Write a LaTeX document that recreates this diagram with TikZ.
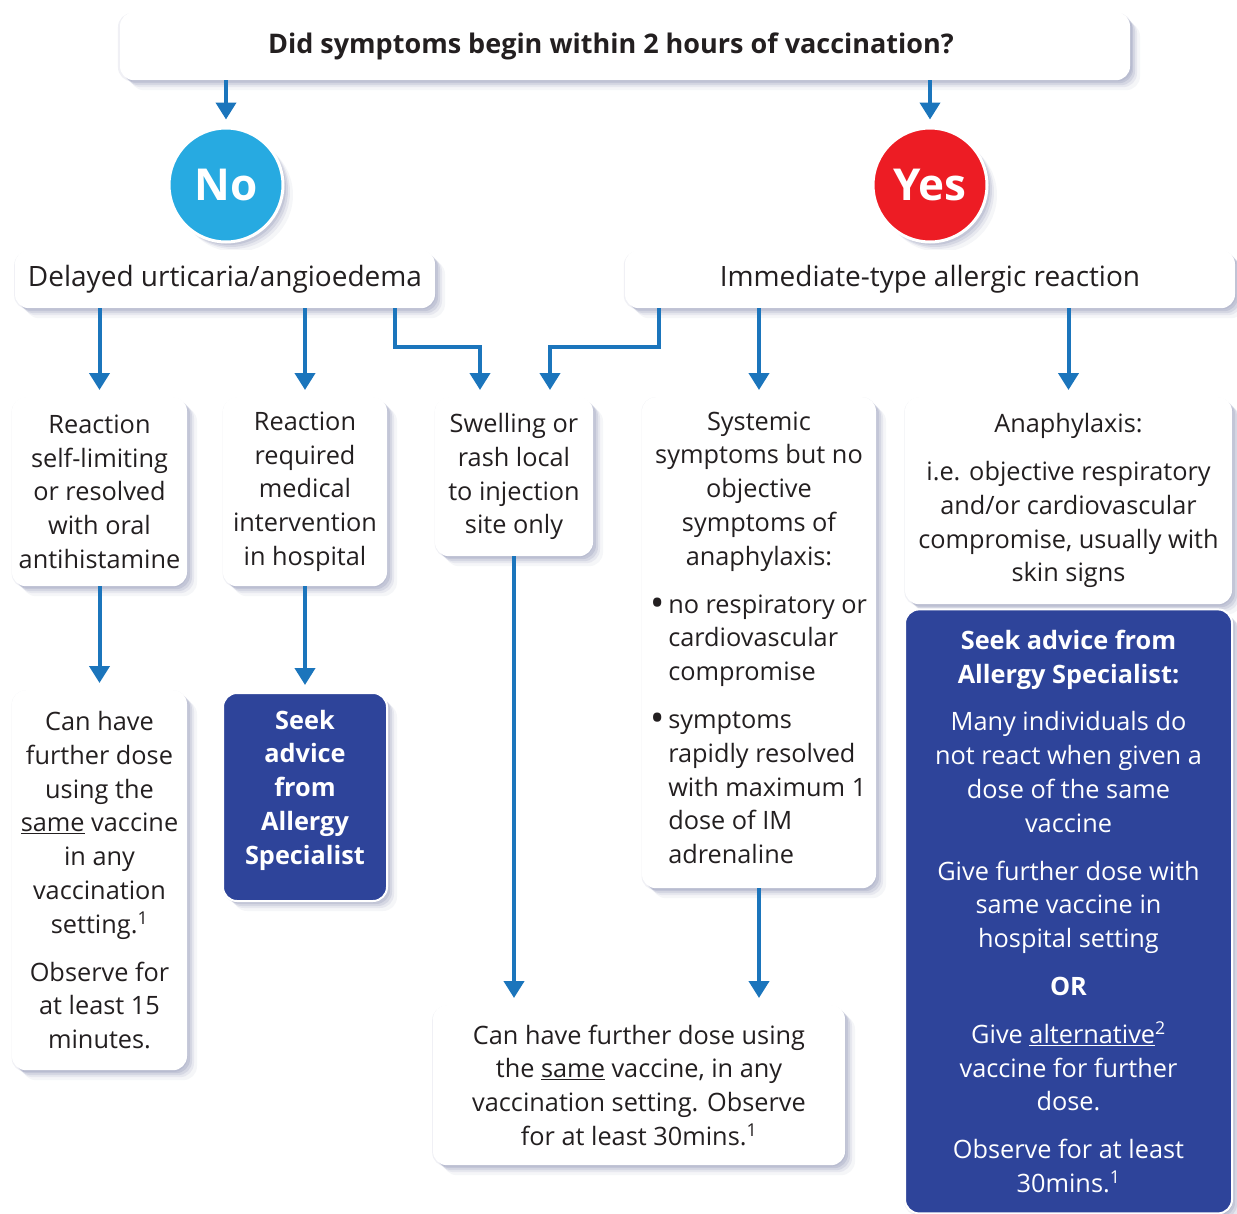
\documentclass[tikz,border=0pt]{standalone}
\usepackage{fontspec}
\setmainfont{Open Sans}
\usetikzlibrary{positioning,arrows.meta,shadows}

\definecolor{flowblue}{RGB}{27,117,188}
\definecolor{advblue}{RGB}{46,68,154}
\definecolor{nocyan}{RGB}{39,170,225}
\definecolor{yesred}{RGB}{237,28,36}
\definecolor{shade}{RGB}{60,70,125}
\definecolor{ink}{RGB}{35,31,32}

\newcommand\bodysize{\fontsize{25.3}{33.8}\selectfont}
\newcommand\headsize{\fontsize{28}{32}\selectfont}
\newcommand\titlesize{\fontsize{27}{32}\selectfont}
\newcommand\bigsize{\fontsize{44}{50}\selectfont}
\newcommand\blob{\raisebox{-3pt}{\fontsize{38}{30}\selectfont\textbullet}}

\tikzset{
  softshadow/.style={
    drop shadow={shadow xshift=10pt, shadow yshift=-10pt, fill=shade, opacity=0.05},
    drop shadow={shadow xshift=7pt, shadow yshift=-7pt, fill=shade, opacity=0.08},
    drop shadow={shadow xshift=5pt, shadow yshift=-5pt, fill=shade, opacity=0.10},
    drop shadow={shadow xshift=3pt, shadow yshift=-3pt, fill=shade, opacity=0.12},
    drop shadow={shadow xshift=0pt, shadow yshift=-1pt, shadow scale=1.004, fill=shade, opacity=0.08}},
  box/.style={rectangle, rounded corners=14pt, fill=white, text=ink, align=center,
    inner sep=0pt, font=\bodysize, softshadow},
  advbox/.style={box, fill=advblue, draw=white, line width=2pt, text=white},
  answer/.style={circle, draw=white, line width=3pt, minimum size=114pt, inner sep=0pt,
    text=white, font=\bigsize\bfseries, softshadow},
  flow/.style={draw=flowblue, line width=4pt, -{Triangle[width=20pt,length=17pt]}, shorten >=7pt}
}

\begin{document}
\begin{tikzpicture}[x=1pt, y=-1pt, anchor=north]
  \useasboundingbox (0,0) rectangle (1237,1213);

  % question and answers
  \node[box, font=\titlesize\bfseries, minimum width=1010pt, minimum height=68pt] (question) at (625,12)
    {Did symptoms begin within 2 hours of vaccination?\hspace*{28pt}};
  \node[answer, fill=nocyan, anchor=center] (no) at (226,185) {No};
  \node[answer, fill=yesred, anchor=center] (yes) at (930,185) {Yes};

  \node[box, font=\headsize, minimum width=420pt, minimum height=58pt] (delayed) at (225,250)
    {Delayed urticaria/angioedema};
  \node[box, font=\headsize, minimum width=610pt, minimum height=58pt] (immediate) at (930,250)
    {Immediate-type allergic reaction};

  % second row
  \node[box, minimum width=175pt, minimum height=189pt] (selflimit) at (99.5,397)
    {Reaction\\self-limiting\\or resolved\\with oral\\antihistamine};
  \node[box, minimum width=164pt, minimum height=189pt] (hospital) at (305,397)
    {Reaction\\required\\medical\\intervention\\in hospital};
  \node[box, minimum width=158pt, minimum height=159pt] (local) at (514,397)
    {Swelling or\\rash local\\to injection\\site only};
  \node[box, minimum width=234pt, minimum height=491pt] (systemic) at (759,397)
    {Systemic\\symptoms but no\\objective\\symptoms of\\anaphylaxis:\\[14pt]
     \begin{tabular}[t]{@{}l@{\hspace{3pt}}l@{}}
       \blob & no respiratory or\\
             & cardiovascular\\
             & compromise\\[14pt]
       \blob & symptoms\\
             & rapidly resolved\\
             & with maximum 1\\
             & dose of IM\\
             & adrenaline
     \end{tabular}};
  \node[box, minimum width=327pt, minimum height=207pt] (anaph) at (1068.5,397)
    {Anaphylaxis:\\[14pt]i.e. objective respiratory\\and/or cardiovascular\\compromise, usually with\\skin signs};
  \node[advbox, minimum width=327pt, minimum height=604pt, below=4pt of anaph] (specialist)
    {\textbf{Seek advice from}\\\textbf{Allergy Specialist:}\\[14pt]
     Many individuals do\\not react when given a\\dose of the same\\vaccine\\[14pt]
     Give further dose with\\same vaccine in\\hospital setting\\[14pt]
     \textbf{OR}\\[14pt]
     Give \underline{alternative}\textsuperscript{2}\\vaccine for further\\dose.\\[14pt]
     Observe for at least\\30mins.\textsuperscript{1}};

  % third row
  \node[box, minimum width=175pt, minimum height=380pt] (samevac) at (99.5,690)
    {Can have\\further dose\\using the\\\underline{same} vaccine\\in any\\vaccination\\setting.\textsuperscript{1}\\[14pt]
     Observe for\\at least 15\\minutes.};
  \node[advbox, font=\bodysize\bfseries, minimum width=164pt, minimum height=208pt] (seek) at (305,692)
    {Seek\\advice\\from\\Allergy\\Specialist\rule[-20pt]{0pt}{1pt}};
  \node[box, minimum width=412pt, minimum height=160pt] (further) at (639,1005)
    {Can have further dose using\\the \underline{same} vaccine, in any\\vaccination setting. Observe\\for at least 30mins.\textsuperscript{1}};

  % connectors
  \draw[flow] (question.south -| no.north) -- (no.north);
  \draw[flow] (question.south -| yes.north) -- (yes.north);
  \draw[flow] (delayed.south -| selflimit.north) -- (selflimit.north);
  \draw[flow] (delayed.south -| hospital.north) -- (hospital.north);
  \draw[flow] ([xshift=170pt]delayed.south) -- ++(0,39) -| ([xshift=-34pt]local.north);
  \draw[flow] ([xshift=-271pt]immediate.south) -- ++(0,39) -| ([xshift=36pt]local.north);
  \draw[flow] (immediate.south -| systemic.north) -- (systemic.north);
  \draw[flow] (immediate.south -| anaph.north) -- (anaph.north);
  \draw[flow] (selflimit) -- (samevac);
  \draw[flow] (hospital) -- (seek);
  \draw[flow] (local.south) -- (local.south |- further.north);
  \draw[flow] (systemic.south) -- (systemic.south |- further.north);
\end{tikzpicture}
\end{document}
